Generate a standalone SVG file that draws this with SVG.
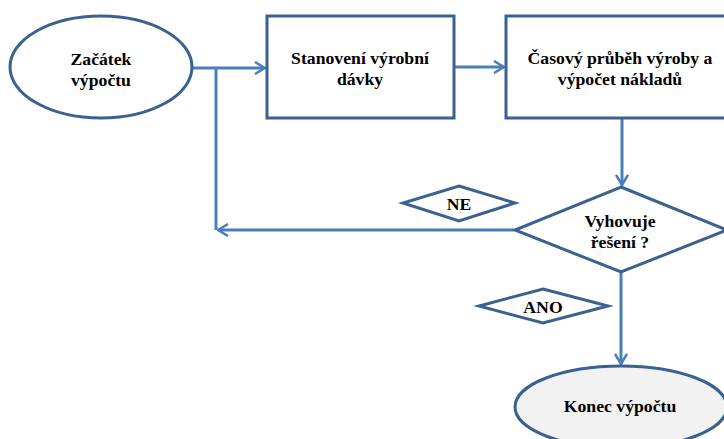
<svg xmlns="http://www.w3.org/2000/svg" width="724" height="439" viewBox="0 0 724 439">
<defs>
<style>
.shape{fill:#ffffff;stroke:#3a6190;stroke-width:3}
.end{fill:#f2f2f2;stroke:#3a6190;stroke-width:3}
.conn{fill:none;stroke:#4a7ebb;stroke-width:3}
text{font-family:'Liberation Serif',serif;font-weight:bold;font-size:17.7px;fill:#000;text-anchor:middle}
</style>
<marker id="arr" viewBox="0 0 12 14" refX="11" refY="7" markerWidth="12" markerHeight="14" markerUnits="userSpaceOnUse" orient="auto">
<path d="M1,1 L11,7 L1,13" fill="none" stroke="#4a7ebb" stroke-width="2.5"/>
</marker>
</defs>
<rect width="724" height="439" fill="#ffffff"/>
<g id="connectors">
<path class="conn" d="M192,68 L265,68" marker-end="url(#arr)"/>
<path class="conn" d="M216,68 L216,230"/>
<path class="conn" d="M454,67 L504,67" marker-end="url(#arr)"/>
<path class="conn" d="M622,118 L622,185" marker-end="url(#arr)"/>
<path class="conn" d="M514,230 L218,230" marker-end="url(#arr)"/>
<path class="conn" d="M621,272 L621,364" marker-end="url(#arr)"/>
</g>
<g id="start">
<ellipse class="shape" cx="101" cy="67" rx="91" ry="51"/>
<text x="101" y="65">Začátek</text>
<text x="101" y="86">výpočtu</text>
</g>
<g id="batch">
<rect class="shape" x="267" y="16" width="187" height="102"/>
<text x="360" y="64">Stanovení výrobní</text>
<text x="360" y="85">dávky</text>
</g>
<g id="schedule">
<rect class="shape" x="506" y="16" width="230" height="102"/>
<text x="620" y="64">Časový průběh výroby a</text>
<text x="620" y="85">výpočet nákladů</text>
</g>
<g id="decision">
<polygon class="shape" points="621,187 727,230 621,272 515,230"/>
<text x="620" y="227">Vyhovuje</text>
<text x="620" y="248">řešení ?</text>
</g>
<g id="label-ne">
<polygon class="shape" points="459,186 515,203 459,221 403,203"/>
<text x="459" y="210">NE</text>
</g>
<g id="label-ano">
<polygon class="shape" points="543,289 608,306 543,323 479,306"/>
<text x="543" y="313">ANO</text>
</g>
<g id="end">
<ellipse class="end" cx="621" cy="407" rx="106" ry="41"/>
<text x="620" y="412">Konec výpočtu</text>
</g>
</svg>
